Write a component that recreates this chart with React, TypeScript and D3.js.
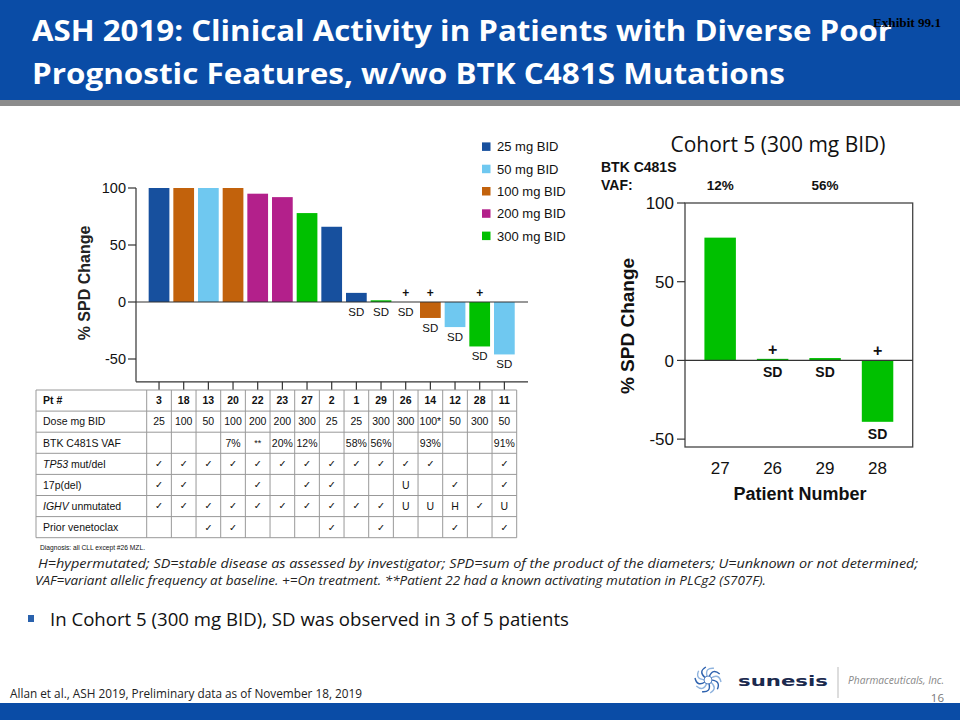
import React from "react";
import * as d3 from "d3";

// ---------- Data ----------
const patients = ["3", "18", "13", "20", "22", "23", "27", "2", "1", "29", "26", "14", "12", "28", "11"];
const doses = [25, 100, 50, 100, 200, 200, 300, 25, 25, 300, 300, 100, 50, 300, 50];
const doseLabels = ["25", "100", "50", "100", "200", "200", "300", "25", "25", "300", "300", "100*", "50", "300", "50"];
const spdChange = [100, 100, 100, 100, 95, 92, 78, 66, 8, 1.5, 0, -14, -22, -39, -46];
const stableDisease = [false, false, false, false, false, false, false, false, true, true, true, true, true, true, true];
const onTreatment = [false, false, false, false, false, false, false, false, false, false, true, true, false, true, false];
const vafRow = ["", "", "", "7%", "**", "20%", "12%", "", "58%", "56%", "", "93%", "", "", "91%"];
const tp53Row = ["✓", "✓", "✓", "✓", "✓", "✓", "✓", "✓", "✓", "✓", "✓", "✓", "", "", "✓"];
const del17pRow = ["✓", "✓", "", "", "✓", "", "✓", "✓", "", "", "U", "", "✓", "", "✓"];
const ighvRow = ["✓", "✓", "✓", "✓", "✓", "✓", "✓", "✓", "✓", "✓", "U", "U", "H", "✓", "U"];
const priorVenRow = ["", "", "✓", "✓", "", "", "", "✓", "", "✓", "", "", "✓", "", "✓"];

const doseLevels = [25, 50, 100, 200, 300];
const doseLegend = ["25 mg BID", "50 mg BID", "100 mg BID", "200 mg BID", "300 mg BID"];
const doseColors = ["#17509E", "#6FC8F0", "#C2620C", "#B3208B", "#00C000"];

const leftTicks = [-50, 0, 50, 100];

const cohortPatients = ["27", "26", "29", "28"];
const cohortChange = [78, 1, 1.5, -39];
const cohortSD = [false, true, true, true];
const cohortPlus = [false, true, false, true];
const cohortVaf = ["12%", "", "56%", ""];
const rightTicks = [-50, 0, 50, 100];

const ARIAL = "'Liberation Sans', Arial, sans-serif";
const CAL = "'Open Sans', 'Noto Sans', sans-serif";
const BLUE = "#0A4CA6";

function Swirl({ cx, cy }: { cx: number; cy: number }) {
  const arms = d3.range(10);
  return (
    <g transform={`translate(${cx},${cy})`}>
      {arms.map((i) => (
        <path
          key={i}
          transform={`rotate(${i * 36})`}
          d="M3,-2 Q11,-7 13,2"
          fill="none"
          stroke={i % 2 ? "#2E62AE" : "#8FB3DE"}
          strokeWidth={1.4}
        />
      ))}
      <circle r={4} fill="none" stroke="#5C86C4" strokeWidth={1} />
    </g>
  );
}

export default function App() {
  // Left chart scales
  const xL = d3.scaleBand<string>().domain(patients).range([146.7, 516.7]).paddingInner(0.16).paddingOuter(0.08);
  const yL = d3.scaleLinear().domain([-70, 100]).range([381.8, 188]);
  const bwL = xL.bandwidth();
  const colorOf = d3.scaleOrdinal<number, string>().domain(doseLevels).range(doseColors);
  const y0L = yL(0);
  const axisLeftX = 136;
  const axisRightX = 528;

  // Table
  const tableTop = 390;
  const rowH = 21.1;
  const tableLeft = 36;
  const gapL = (xL.step() - bwL) / 2;
  const colLefts = patients.map((p) => (xL(p) as number) - gapL);
  const tableRight = colLefts[colLefts.length - 1] + xL.step();
  const rows: { label: React.ReactNode; cells: string[]; bold?: boolean }[] = [
    { label: "Pt #", cells: patients, bold: true },
    { label: "Dose mg BID", cells: doseLabels },
    { label: "BTK C481S VAF", cells: vafRow },
    { label: <><tspan fontStyle="italic">TP53</tspan> mut/del</>, cells: tp53Row },
    { label: "17p(del)", cells: del17pRow },
    { label: <><tspan fontStyle="italic">IGHV</tspan> unmutated</>, cells: ighvRow },
    { label: "Prior venetoclax", cells: priorVenRow },
  ];

  // Right chart scales
  const xR = d3.scaleBand<string>().domain(cohortPatients).range([685, 912.7]).paddingInner(0.4).paddingOuter(0.37);
  const yR = d3.scaleLinear().domain([-55, 100]).range([447, 203]);
  const y0R = yR(0);
  const frameL = 685, frameR = 912.7, frameT = yR(100), frameB = yR(-55);

  return (
    <svg width={960} height={720} style={{ position: "absolute", left: 0, top: 0 }} xmlns="http://www.w3.org/2000/svg">
      <rect x={0} y={0} width={960} height={720} fill="#ffffff" />

      {/* Header */}
      <rect x={0} y={0} width={960} height={100} fill={BLUE} />
      <rect x={0} y={100} width={960} height={6} fill="#8C8C8C" />
      <text x={32} y={41} fill="#fff" fontFamily={CAL} fontWeight={700} fontSize={28} textLength={860} lengthAdjust="spacingAndGlyphs">
        ASH 2019: Clinical Activity in Patients with Diverse Poor
      </text>
      <text x={32} y={84} fill="#fff" fontFamily={CAL} fontWeight={700} fontSize={28} textLength={753} lengthAdjust="spacingAndGlyphs">
        Prognostic Features, w/wo BTK C481S Mutations
      </text>
      <text x={873} y={27} fill="#000" fontFamily="'Liberation Serif', 'Times New Roman', serif" fontWeight={700} fontSize={12.5} textLength={68} lengthAdjust="spacingAndGlyphs">
        Exhibit  99.1
      </text>

      {/* Left chart */}
      <g>
        {spdChange.map((v, i) =>
          v === 0 ? null : (
            <rect
              key={patients[i]}
              x={xL(patients[i])}
              y={Math.min(yL(v), y0L)}
              width={bwL}
              height={Math.abs(yL(v) - y0L)}
              fill={colorOf(doses[i])}
            />
          )
        )}
        <line x1={axisLeftX} x2={axisRightX} y1={y0L} y2={y0L} stroke="#333" strokeWidth={1.2} />
        <line x1={axisLeftX} x2={axisLeftX} y1={yL(100)} y2={yL(-70)} stroke="#333" strokeWidth={1.2} />
        <line x1={axisLeftX} x2={axisRightX} y1={yL(-70)} y2={yL(-70)} stroke="#333" strokeWidth={1.2} />
        {patients.map((p) => (
          <line key={p} x1={(xL(p) as number) + bwL / 2} x2={(xL(p) as number) + bwL / 2} y1={yL(-70)} y2={tableTop} stroke="#333" strokeWidth={1.2} />
        ))}
        {leftTicks.map((t) => (
          <g key={t}>
            <line x1={axisLeftX - 8} x2={axisLeftX} y1={yL(t)} y2={yL(t)} stroke="#333" strokeWidth={1.2} />
            <text x={axisLeftX - 10} y={yL(t)} dy="0.36em" textAnchor="end" fontFamily={ARIAL} fontSize={14.5} fill="#111">
              {t}
            </text>
          </g>
        ))}
        <text transform={`translate(90,283) rotate(-90)`} textAnchor="middle" fontFamily={ARIAL} fontWeight={700} fontSize={16} fill="#222">
          % SPD Change
        </text>
        {spdChange.map((v, i) => {
          const cx = (xL(patients[i]) as number) + bwL / 2;
          return (
            <g key={"lab" + i}>
              {stableDisease[i] && (
                <text x={cx} y={Math.max(yL(v), y0L) + 14} textAnchor="middle" fontFamily={ARIAL} fontSize={11.5} fill="#111">
                  SD
                </text>
              )}
              {onTreatment[i] && (
                <text x={cx} y={Math.min(yL(v), y0L) - 5} textAnchor="middle" fontFamily={ARIAL} fontWeight={700} fontSize={12} fill="#111">
                  +
                </text>
              )}
            </g>
          );
        })}
        {/* Legend */}
        {doseLegend.map((lab, i) => (
          <g key={lab} transform={`translate(482,${146.7 + i * 22.3})`}>
            <rect x={0} y={-4.3} width={8.5} height={8.5} fill={doseColors[i]} />
            <text x={15} y={0} dy="0.36em" fontFamily={ARIAL} fontSize={13} fill="#111">
              {lab}
            </text>
          </g>
        ))}
      </g>

      {/* Table */}
      <g fontFamily={ARIAL} fontSize={10.5} fill="#111">
        {d3.range(rows.length + 1).map((r) => (
          <line key={"h" + r} x1={tableLeft} x2={tableRight} y1={tableTop + r * rowH} y2={tableTop + r * rowH} stroke="#999" strokeWidth={1} />
        ))}
        <line x1={tableLeft} x2={tableLeft} y1={tableTop} y2={tableTop + rows.length * rowH} stroke="#999" strokeWidth={1} />
        {colLefts.map((cl, i) => (
          <line key={"v" + i} x1={cl} x2={cl} y1={tableTop} y2={tableTop + rows.length * rowH} stroke="#999" strokeWidth={1} />
        ))}
        <line x1={tableRight} x2={tableRight} y1={tableTop} y2={tableTop + rows.length * rowH} stroke="#999" strokeWidth={1} />
        {rows.map((row, r) => {
          const yb = tableTop + r * rowH + rowH / 2;
          return (
            <g key={"row" + r} fontWeight={row.bold ? 700 : 400}>
              <text x={tableLeft + 7} y={yb} dy="0.36em">
                {row.label}
              </text>
              {row.cells.map((c, i) =>
                c ? (
                  <text
                    key={i}
                    x={(xL(patients[i]) as number) + bwL / 2}
                    y={yb}
                    dy="0.36em"
                    textAnchor="middle"
                    fontFamily={c === "✓" ? "'DejaVu Sans', sans-serif" : ARIAL}
                    fontSize={c === "✓" ? 9.5 : c === "**" ? 9 : 10.5}
                  >
                    {c}
                  </text>
                ) : null
              )}
            </g>
          );
        })}
        <text x={40} y={550} fontSize={7.5} textLength={105} lengthAdjust="spacingAndGlyphs">
          Diagnosis: all CLL except #26 MZL.
        </text>
      </g>

      {/* Footnotes */}
      <text x={38} y={568} fontFamily={CAL} fontStyle="italic" fontSize={12.5} fill="#222" textLength={880} lengthAdjust="spacingAndGlyphs">
        H=hypermutated; SD=stable disease as assessed by investigator; SPD=sum of the product of the diameters; U=unknown or not determined;
      </text>
      <text x={35} y={585} fontFamily={CAL} fontStyle="italic" fontSize={12.5} fill="#222" textLength={731} lengthAdjust="spacingAndGlyphs">
        VAF=variant allelic frequency at baseline. +=On treatment. **Patient 22 had a known activating mutation in PLCg2 (S707F).
      </text>

      {/* Bullet */}
      <rect x={28} y={615} width={6} height={7} fill="#2A62AD" />
      <text x={50} y={626} fontFamily={CAL} fontSize={18.5} fill="#111" textLength={519} lengthAdjust="spacingAndGlyphs">
        In Cohort 5 (300 mg BID), SD was observed  in 3 of 5 patients
      </text>

      {/* Right chart */}
      <g>
        <text x={778} y={152} textAnchor="middle" fontFamily={CAL} fontSize={21} fill="#111" textLength={215} lengthAdjust="spacingAndGlyphs">
          Cohort 5 (300 mg BID)
        </text>
        <text x={601} y={172} fontFamily={ARIAL} fontWeight={700} fontSize={14} fill="#111">
          BTK C481S
        </text>
        <text x={601} y={190} fontFamily={ARIAL} fontWeight={700} fontSize={14} fill="#111">
          VAF:
        </text>
        {cohortVaf.map((v, i) =>
          v ? (
            <text key={"vaf" + i} x={(xR(cohortPatients[i]) as number) + xR.bandwidth() / 2} y={190} textAnchor="middle" fontFamily={ARIAL} fontWeight={700} fontSize={13.5} fill="#111">
              {v}
            </text>
          ) : null
        )}
        {cohortChange.map((v, i) => (
          <rect
            key={"rb" + i}
            x={xR(cohortPatients[i])}
            y={Math.min(yR(v), y0R)}
            width={xR.bandwidth()}
            height={Math.abs(yR(v) - y0R)}
            fill="#00C000"
          />
        ))}
        <rect x={frameL} y={frameT} width={frameR - frameL} height={frameB - frameT} fill="none" stroke="#444" strokeWidth={1.3} />
        <line x1={frameL} x2={frameR} y1={y0R} y2={y0R} stroke="#333" strokeWidth={1.2} />
        {rightTicks.map((t) => (
          <g key={"rt" + t}>
            <line x1={frameL - 8} x2={frameL} y1={yR(t)} y2={yR(t)} stroke="#333" strokeWidth={1.2} />
            <text x={frameL - 11} y={yR(t)} dy="0.36em" textAnchor="end" fontFamily={ARIAL} fontSize={17} fill="#111">
              {t}
            </text>
          </g>
        ))}
        {cohortPatients.map((p, i) => {
          const cx = (xR(p) as number) + xR.bandwidth() / 2;
          const v = cohortChange[i];
          return (
            <g key={"rl" + p}>
              <text x={cx} y={474} textAnchor="middle" fontFamily={ARIAL} fontSize={17} fill="#111">
                {p}
              </text>
              {cohortSD[i] && (
                <text x={cx} y={Math.max(yR(v), y0R) + 17} textAnchor="middle" fontFamily={ARIAL} fontWeight={700} fontSize={14} fill="#111">
                  SD
                </text>
              )}
              {cohortPlus[i] && (
                <text x={cx} y={Math.min(yR(v), y0R) - 4} textAnchor="middle" fontFamily={ARIAL} fontWeight={700} fontSize={16} fill="#111">
                  +
                </text>
              )}
            </g>
          );
        })}
        <text transform={`translate(634,326) rotate(-90)`} textAnchor="middle" fontFamily={ARIAL} fontWeight={700} fontSize={19} fill="#111">
          % SPD Change
        </text>
        <text x={800} y={500} textAnchor="middle" fontFamily={ARIAL} fontWeight={700} fontSize={18} fill="#111">
          Patient Number
        </text>
      </g>

      {/* Footer */}
      <text x={10} y={698} fontFamily={CAL} fontSize={12} fill="#222" textLength={352} lengthAdjust="spacingAndGlyphs">
        Allan et al., ASH 2019, Preliminary data as of November  18, 2019
      </text>
      <Swirl cx={708} cy={680} />
      <text x={738} y={686} fontFamily={"'DejaVu Sans', sans-serif"} fontWeight={700} fontSize={14} fill="#1B2A4E" textLength={90} lengthAdjust="spacingAndGlyphs">
        sunesis
      </text>
      <line x1={838} x2={838} y1={667} y2={698} stroke="#BBB" strokeWidth={1} />
      <text x={848} y={684} fontFamily={CAL} fontStyle="italic" fontSize={11} fill="#888" textLength={96} lengthAdjust="spacingAndGlyphs">
        Pharmaceuticals, Inc.
      </text>
      <text x={944} y={701.5} textAnchor="end" fontFamily={CAL} fontSize={11.5} fill="#777">
        16
      </text>
      <rect x={0} y={703} width={960} height={17} fill={BLUE} />
    </svg>
  );
}
